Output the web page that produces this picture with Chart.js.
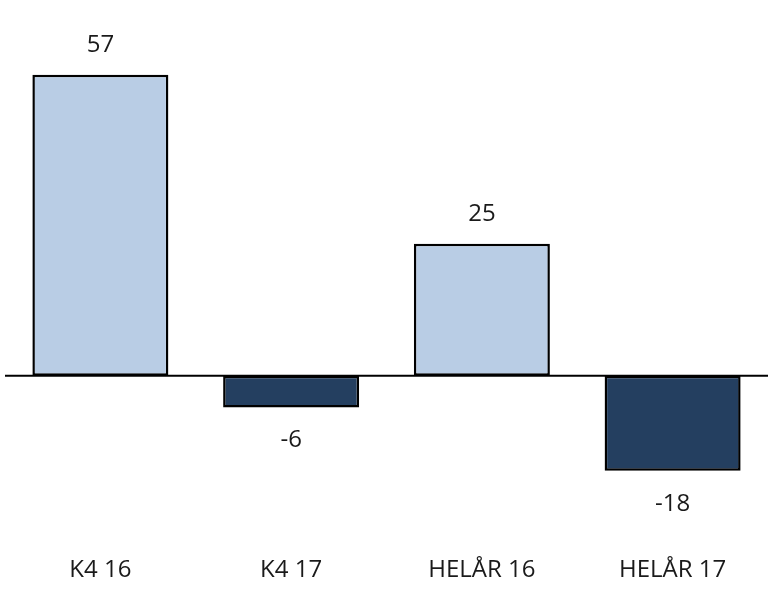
<!DOCTYPE html>
<html>
<head>
<meta charset="utf-8">
<script src="https://cdn.jsdelivr.net/npm/chart.js@4"></script>
<style>
  html, body { margin: 0; padding: 0; background: #fff; }
  #wrap { width: 768px; height: 608px; }
</style>
</head>
<body>
<div id="wrap"><canvas id="chart" width="768" height="608"></canvas></div>
<script>
// data
var categories = ['K4 16', 'K4 17', 'HELÅR 16', 'HELÅR 17'];
var values = [57, -6, 25, -18];
var barColors = ['#B9CDE5', '#243F60', '#B9CDE5', '#243F60'];

var fontFamily = "'Open Sans', 'Liberation Sans', sans-serif";

// zero line across the plot
var zeroLine = {
    id: 'zeroLine',
    beforeDatasetsDraw: function(chart) {
        var ctx = chart.ctx, area = chart.chartArea;
        var y = chart.scales.y.getPixelForValue(0);
        ctx.save();
        ctx.strokeStyle = '#000';
        ctx.lineWidth = 2;
        ctx.beginPath();
        ctx.moveTo(area.left, y);
        ctx.lineTo(area.right, y);
        ctx.stroke();
        ctx.restore();
    }
};

// value labels above / below the bars
var valueLabels = {
    id: 'valueLabels',
    afterDatasetsDraw: function(chart) {
        var ctx = chart.ctx;
        var meta = chart.getDatasetMeta(0);
        ctx.save();
        ctx.font = '24px ' + fontFamily;
        ctx.fillStyle = '#1a1a1a';
        ctx.textAlign = 'center';
        ctx.textBaseline = 'middle';
        meta.data.forEach(function(bar, i) {
            var v = values[i];
            var y = v >= 0 ? bar.y - 30 : bar.y + 33;
            ctx.fillText(String(v), bar.x, y);
        });
        ctx.restore();
    }
};

new Chart(document.getElementById('chart'), {
    type: 'bar',
    data: {
        labels: categories,
        datasets: [{
            data: values,
            backgroundColor: barColors,
            borderColor: '#000',
            borderWidth: 2.5,
            borderSkipped: false,
            categoryPercentage: 1,
            barPercentage: 0.713
        }]
    },
    options: {
        responsive: false,
        animation: false,
        layout: { padding: { top: 6, left: 5, right: 0, bottom: 9 } },
        plugins: {
            legend: { display: false },
            tooltip: { enabled: false }
        },
        scales: {
            x: {
                grid: { display: false },
                border: { display: false },
                ticks: {
                    color: '#1a1a1a',
                    padding: 14,
                    font: { family: fontFamily, size: 24 }
                }
            },
            y: {
                display: false,
                min: -30,
                max: 70
            }
        }
    },
    plugins: [zeroLine, valueLabels]
});
</script>
</body>
</html>
